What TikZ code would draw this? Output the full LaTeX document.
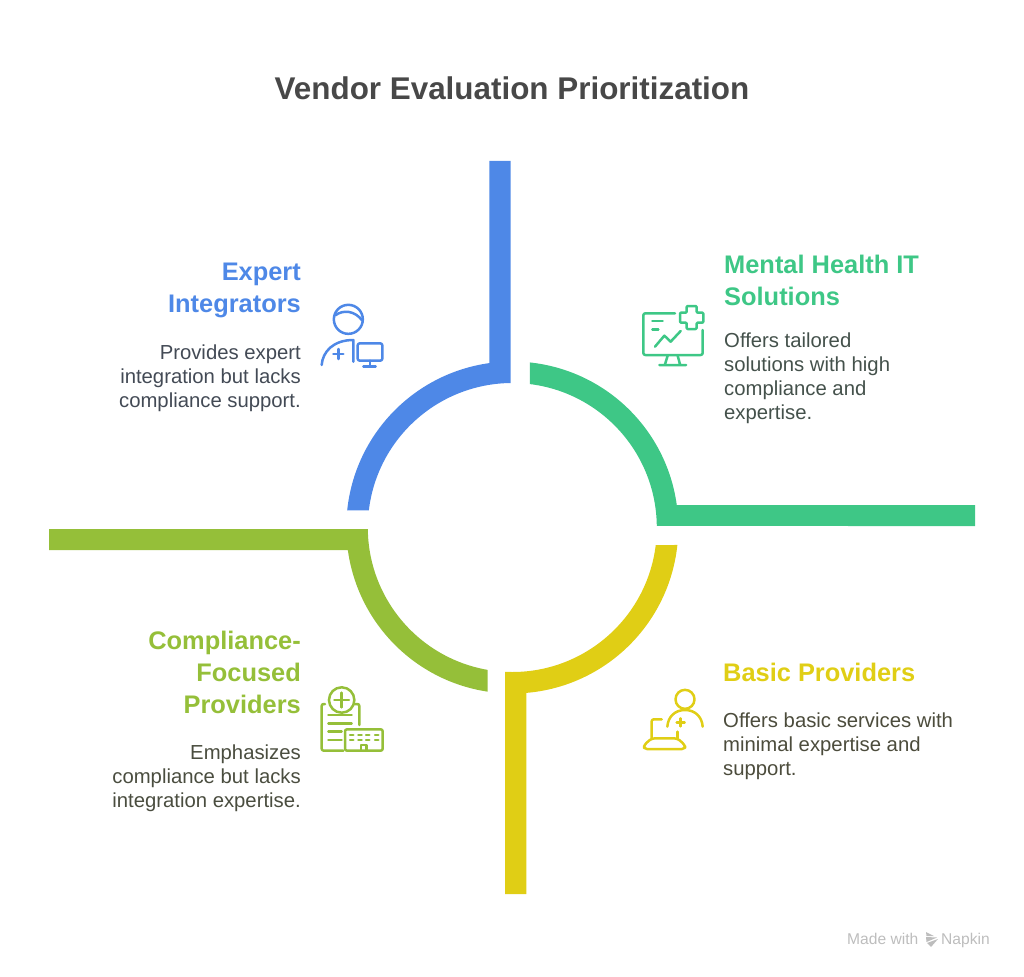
\documentclass[tikz,border=0pt]{standalone}
\usepackage{fontspec}
\setmainfont{Liberation Sans}
\definecolor{cblue}{HTML}{4E88E7}
\definecolor{cgreen}{HTML}{3EC786}
\definecolor{cyellow}{HTML}{E0CE15}
\definecolor{colive}{HTML}{95BF39}
\definecolor{ctitle}{HTML}{484848}
\definecolor{tblue}{HTML}{434A55}
\definecolor{tgreen}{HTML}{44514B}
\definecolor{tolive}{HTML}{4A4D3F}
\definecolor{tyellow}{HTML}{4C4C3C}
\definecolor{cfoot}{HTML}{BDBDBD}
\tikzset{
  titletext/.style={inner sep=0pt,text=ctitle,font=\fontsize{31.4}{38}\selectfont\bfseries},
  headL/.style={inner sep=0pt,anchor=north east,align=right,font=\fontsize{25.4}{32}\selectfont\bfseries},
  headR/.style={inner sep=0pt,anchor=north west,align=left,font=\fontsize{25.4}{32}\selectfont\bfseries},
  bodyL/.style={inner sep=0pt,anchor=north east,align=right,font=\fontsize{20.3}{24}\selectfont},
  bodyR/.style={inner sep=0pt,anchor=north west,align=left,font=\fontsize{20.3}{24}\selectfont},
  foot/.style={inner sep=0pt,anchor=base west,text=cfoot,font=\fontsize{15.6}{16}\selectfont},
  icon/.style={x=0.33333pt,y=-0.33333pt,line width=2.5pt,line cap=round,line join=round,draw=#1},
}
\begin{document}
\begin{tikzpicture}[x=1pt,y=-1pt]
\useasboundingbox (0,0) rectangle (1024,976);
\coordinate (c) at (512.3,527.5);
% ring segments
\fill[cblue] (489.3,161) -- (489.3,363.1) arc[start angle=97.96,end angle=174.05,radius=166pt]
  -- ([shift={(173.16:144.5pt)}]c) arc[start angle=173.16,end angle=90.63,radius=144.5pt] -- (510.7,161) -- cycle;
\fill[cgreen] ([shift={(83.95:166pt)}]c) arc[start angle=83.95,end angle=7.79,radius=166pt]
  -- (975,505) -- (975,526) -- ([shift={(0.6:144.5pt)}]c) arc[start angle=0.6,end angle=83.04,radius=144.5pt] -- cycle;
\fill[cyellow] ([shift={(-6.05:166pt)}]c) arc[start angle=-6.05,end angle=-85.16,radius=166pt]
  -- (526.3,894) -- (505,894) -- ([shift={(-92.9:144.5pt)}]c) arc[start angle=-92.9,end angle=-6.96,radius=144.5pt] -- cycle;
\fill[colive] (49,529) -- ([shift={(180.6:144.5pt)}]c) arc[start angle=180.6,end angle=260.12,radius=144.5pt]
  -- ([shift={(261.41:166pt)}]c) arc[start angle=261.41,end angle=187.79,radius=166pt] -- (49,550) -- cycle;
% title
\node[titletext] (title) at (512,88) {Vendor Evaluation Prioritization};
% texts
\node[headL,text=cblue] (h1) at (301,263) {Expert\\Integrators};
\node[bodyL,text=tblue] (b1) at (301,345) {Provides expert\\integration but lacks\\compliance support.};
\node[headR,text=cgreen] (h2) at (724,254.5) {Mental Health IT\\Solutions};
\node[bodyR,text=tgreen] (b2) at (724,333) {Offers tailored\\solutions with high\\compliance and\\expertise.};
\node[headL,text=colive] (h3) at (301,631) {Compliance-\\Focused\\Providers};
\node[bodyL,text=tolive] (b3) at (301,745) {Emphasizes\\compliance but lacks\\integration expertise.};
\node[headR,text=cyellow] (h4) at (723,663) {Basic Providers};
\node[bodyR,text=tyellow] (b4) at (723,713) {Offers basic services with\\minimal expertise and\\support.};
% blue icon
\begin{scope}[shift={(310,290)},icon=cblue]
\draw (115,88) circle[radius=14.5pt];
\draw (76,76) .. controls (100,58) and (135,62) .. (157,92);
\draw (35,225) .. controls (38,185) and (70,150) .. (130,150) -- (130,215);
\draw (70,192) -- (100,192) (85,177) -- (85,207);
\draw[rounded corners=2pt] (143,160) rectangle (217,212);
\draw (180,212) -- (180,228) (160,230) -- (197,230);
\end{scope}
% green icon
\begin{scope}[shift={(630,295)},icon=cgreen]
\draw[rounded corners=2pt] (135,55) -- (40,55) -- (40,180) -- (218,180) -- (218,105);
\draw (75,155) -- (103,122) -- (122,140) -- (152,108);
\draw (67,78) -- (98,78) (67,103) -- (85,103);
\draw (113,182) -- (105,208) (143,182) -- (150,208) (88,210) -- (168,210);
\draw[rounded corners=1pt] (170,33) -- (200,33) -- (200,53) -- (220,53) -- (220,83) -- (200,83) -- (200,102) -- (170,102) -- (170,83) -- (150,83) -- (150,53) -- (170,53) -- cycle;
\end{scope}
% olive icon
\begin{scope}[shift={(310,680)},icon=colive]
\draw (95,60) circle[radius=12.7pt];
\draw (73,60) -- (117,60) (95,38) -- (95,82);
\draw[rounded corners=2pt] (45,72) -- (35,72) -- (35,212) -- (100,212);
\draw[rounded corners=2pt] (135,72) -- (148,72) -- (148,135);
\draw (55,105) -- (125,105) (55,130) -- (125,130) (55,155) -- (95,155) (55,180) -- (95,180);
\draw[rounded corners=2pt] (105,148) rectangle (218,212);
\foreach \yy in {165,180} \foreach \xx in {120,145,168,195} \draw (\xx,\yy) -- (\xx+10,\yy);
\draw (153,212) -- (153,195) -- (170,195) -- (170,212);
\end{scope}
% yellow icon
\begin{scope}[shift={(630,680)},icon=cyellow]
\draw (165,58) circle[radius=9.5pt];
\draw (112,140) .. controls (114,110) and (135,90) .. (165,90) .. controls (195,90) and (216,110) .. (218,140);
\draw (140,127) -- (164,127) (152,115) -- (152,139);
\draw (142,155) -- (142,175);
\draw[rounded corners=2pt] (95,118) -- (65,118) -- (65,175);
\draw[rounded corners=3pt] (65,175) -- (142,175) -- (165,195) -- (165,207) -- (42,207) -- (42,195) -- cycle;
\end{scope}
% footer
\node[foot] (f1) at (847,944) {Made with};
\node[foot] (f2) at (941,944) {Napkin};
\fill[cfoot] (926,932) -- (934,936) -- (926.5,936) -- cycle;
\fill[cfoot] (926,937) -- (937,937.5) -- (926.5,942) -- cycle;
\fill[cfoot] (927,943) -- (938,939) -- (931,947) -- cycle;
\end{tikzpicture}
\end{document}
